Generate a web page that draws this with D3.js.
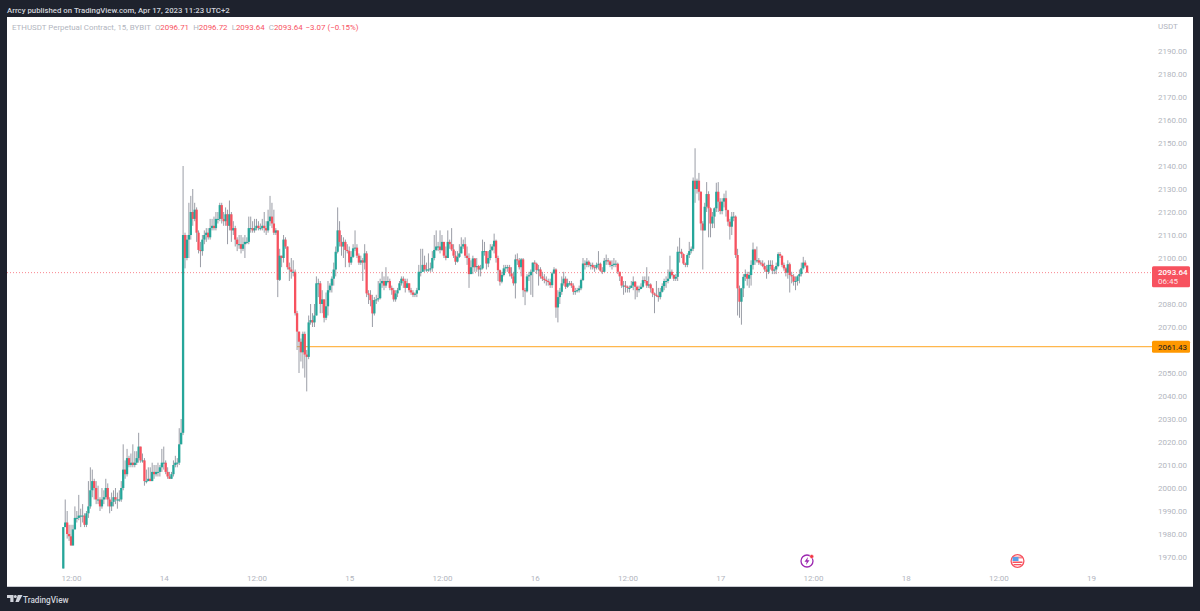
<!DOCTYPE html>
<html><head><meta charset="utf-8">
<script src="https://d3js.org/d3.v7.min.js"></script>
<style>html,body{margin:0;padding:0;background:#1e222d}svg{display:block}</style>
</head><body><div id="c"></div>
<script>
const opens=[
1965,1983,1985,1980,1979,1975,1982,1987,1987,1988,
1988,1988,1984,1989,1992,1999,2003,2000,1995,1995,
1992,1995,1996,2000,1995,1992,1994,1996,1995,1995,
1995,2000,2008,2006,2013,2010,2011,2010,2011,2013,
2018,2012,2012,2003,2003,2004,2003,2007,2006,2007,
2007,2009,2011,2011,2007,2005,2004,2006,2010,2011,
2011,2019,2024,2110,2100,2108,2110,2120,2117,2121,
2111,2103.5,2103,2108,2110,2111,2109,2113,2114,2113,
2117,2117,2123,2117,2116,2119,2114,2119,2112,2113,
2108,2106,2106,2104,2106,2107,2107,2113,2113,2112,
2113,2114,2113,2113,2114,2113,2112,2116,2118,2115,
2111,2112,2090.5,2101,2100,2108,2105,2096,2095,2094,
2094,2076,2068,2063.6,2059,2067,2058,2057,2072,2073,
2072,2075,2089,2089,2080,2082,2074,2079,2086,2088,
2091,2095,2102.7,2112,2107,2105,2107,2103.5,2103,2098,
2100.5,2104.2,2104.5,2101,2098,2099,2098,2102,2084.6,2084,
2081.7,2075.9,2081.7,2082,2082.5,2089,2090,2088,2090,2090,
2087,2086,2082,2084.6,2086,2089,2091,2090,2087,2089,
2086,2085,2084,2084.5,2086,2094,2094,2097,2095,2095,
2095,2095.5,2100,2103.5,2105,2105,2103.5,2107,2101,2100,
2107,2106,2103.7,2101,2098.4,2100.5,2102,2105,2106,2101,
2100,2093,2096,2099.8,2096,2096.5,2095,2095.5,2103,2103,
2097.6,2100,2103.5,2105,2107.5,2100,2094.7,2089.7,2092.6,2095.5,
2096,2096,2093.3,2092,2089,2099.4,2099,2096,2099.4,2086,
2085.5,2092,2092.5,2094,2098,2097.5,2094.8,2095,2092,2091,
2090.4,2090,2089.5,2088.2,2093.3,2095,2078.5,2083,2085.3,2089,
2091,2087.5,2089,2089,2088,2085.3,2085.6,2086,2086.8,2090.4,
2097.6,2097,2098.4,2097,2097,2096,2095.8,2097,2097.5,2094.5,
2094,2098.8,2099,2098.5,2097,2097,2097.5,2097.5,2094,2092,
2088,2088,2087.5,2087,2087,2088,2089.7,2087.5,2086,2086.5,
2087.5,2090.4,2090,2088,2088.5,2086.8,2084.6,2084,2083.5,2083,
2085.3,2087.8,2090,2090,2091,2094,2092.6,2091,2091.8,2102.7,
2102.7,2101.7,2097.6,2097,2101.3,2103,2104,2133.6,2130,2133.6,
2128.8,2115,2112,2122.3,2127.8,2121.6,2115,2118,2121.6,2128.8,
2124.5,2120.4,2124.5,2126,2120.8,2115.8,2113.6,2118,2118,2101.3,
2086.8,2081,2086.8,2091.8,2093,2091,2092.6,2097,2103.7,2099,
2099,2098,2097.6,2096.5,2095,2094,2097,2097,2094.5,2095,
2096.5,2101.7,2101,2097,2095.5,2093.6,2097.3,2092.6,2092,2089.7,
2090,2092,2093,2095.5,2098,2096.71];
const closes=[
1983,1985,1980,1979,1975,1982,1987,1987,1988,1988,
1988,1984,1989,1992,1999,2003,2000,1995,1995,1992,
1995,1996,2000,1995,1992,1994,1996,1995,1995,1995,
2000,2008,2006,2013,2010,2011,2010,2011,2013,2018,
2012,2012,2003,2003,2004,2003,2007,2006,2007,2007,
2009,2011,2011,2007,2005,2004,2006,2010,2011,2011,
2019,2024,2110,2100,2108,2110,2120,2117,2121,2111,
2103.5,2103,2108,2110,2111,2109,2113,2114,2113,2117,
2117,2123,2117,2116,2119,2114,2119,2112,2113,2108,
2106,2106,2104,2106,2107,2107,2113,2113,2112,2113,
2114,2113,2113,2114,2113,2112,2116,2118,2115,2111,
2112,2090.5,2101,2100,2108,2105,2096,2095,2094,2094,
2076,2068,2063.6,2059,2067,2058,2057,2072,2073,2072,
2075,2089,2089,2080,2082,2074,2079,2086,2088,2091,
2095,2102.7,2112,2107,2105,2107,2103.5,2103,2098,2100.5,
2104.2,2104.5,2101,2098,2099,2098,2102,2084.6,2084,2081.7,
2075.9,2081.7,2082,2082.5,2089,2090,2088,2090,2090,2087,
2086,2082,2084.6,2086,2089,2091,2090,2087,2089,2086,
2085,2084,2084.5,2086,2094,2094,2097,2095,2095,2095,
2095.5,2100,2103.5,2105,2105,2103.5,2107,2101,2100,2107,
2106,2103.7,2101,2098.4,2100.5,2102,2105,2106,2101,2100,
2093,2096,2099.8,2096,2096.5,2095,2095.5,2103,2103,2097.6,
2100,2103.5,2105,2107.5,2100,2094.7,2089.7,2092.6,2095.5,2096,
2096,2093.3,2092,2089,2099.4,2099,2096,2099.4,2086,2085.5,
2092,2092.5,2094,2098,2097.5,2094.8,2095,2092,2091,2090.4,
2090,2089.5,2088.2,2093.3,2095,2078.5,2083,2085.3,2089,2091,
2087.5,2089,2089,2088,2085.3,2085.6,2086,2086.8,2090.4,2097.6,
2097,2098.4,2097,2097,2096,2095.8,2097,2097.5,2094.5,2094,
2098.8,2099,2098.5,2097,2097,2097.5,2097.5,2094,2092,2088,
2088,2087.5,2087,2087,2088,2089.7,2087.5,2086,2086.5,2087.5,
2090.4,2090,2088,2088.5,2086.8,2084.6,2084,2083.5,2083,2085.3,
2087.8,2090,2090,2091,2094,2092.6,2091,2091.8,2102.7,2102.7,
2101.7,2097.6,2097,2101.3,2103,2104,2133.6,2130,2133.6,2128.8,
2115,2112,2122.3,2127.8,2121.6,2115,2118,2121.6,2128.8,2124.5,
2120.4,2124.5,2126,2120.8,2115.8,2113.6,2118,2118,2101.3,2086.8,
2081,2086.8,2091.8,2093,2091,2092.6,2097,2103.7,2099,2099,
2098,2097.6,2096.5,2095,2094,2097,2097,2094.5,2095,2096.5,
2101.7,2101,2097,2095.5,2093.6,2097.3,2092.6,2092,2089.7,2090,
2092,2093,2095.5,2098,2096.71,2093.64];
const highs=[
1983,1995,1990,1984,1984,1984,1992,1990,1997,1991,
1993,1989,1990,2003,2009,2008,2004,2003,2001,1996,
2000,1999,2004,2002,1996,1998,1999,2000,1998,1999,
2003,2019,2012,2017,2014,2015,2019,2016,2016,2024,
2018,2015,2013,2008,2009,2009,2011,2010,2010,2011,
2010,2017,2018,2012,2009,2007,2007,2012,2014,2013,
2026,2030,2140,2111,2110,2124,2127,2130,2124,2122,
2112,2107,2110,2112,2113,2113,2117,2117,2118,2120,
2120,2124,2124,2120,2122,2121,2125,2120,2116,2114,
2109,2110,2110,2109,2110,2109,2118,2118,2116,2117,
2117,2116,2115,2117,2120,2116,2121,2127,2124,2121,
2113,2112,2104,2101,2110,2109,2105,2098,2100,2099,
2095,2077,2068,2065,2068,2068,2060,2075,2080,2076,
2080,2092,2091,2090,2086,2082,2085,2090,2089,2092,
2098,2105,2122,2116,2110,2109,2108,2106,2105,2103,
2106,2112,2106,2102,2101,2100,2106,2103,2086,2086,
2084,2083,2084,2090,2091,2094,2092,2096,2092,2091,
2088,2087,2086,2087,2090,2092,2092,2091,2091,2089,
2087,2086,2085,2087,2097,2104,2104,2101,2098,2102,
2098,2103,2110,2112,2107,2112,2110,2107,2105,2112,
2108,2113,2106,2103,2103,2106,2109,2108,2109,2105,
2102,2099,2101,2100,2100,2097,2097,2108,2107,2103,
2103,2106,2106,2110.6,2108,2101,2095,2094,2097,2097,
2097,2097,2096,2094,2101.5,2102,2100,2100,2100,2087,
2093,2094,2095,2098,2099,2098,2097,2096,2094,2093,
2092,2091,2091,2094,2096,2095.5,2086,2087,2092,2094,
2092,2091,2090,2090,2089,2087,2087,2088,2091,2100,
2099,2100,2099,2098,2098,2097,2098,2103,2098,2096,
2100,2101.5,2100,2099,2099,2100,2099,2098,2094,2092,
2090,2090,2088,2088,2090,2092,2090,2088,2088,2089,
2092,2092,2096,2092,2089,2087,2085,2090,2087,2087,
2089,2091,2092,2095,2101,2095,2093,2093,2105,2108.8,
2104,2102,2098,2102,2107,2105,2135,2147.7,2134.5,2137,
2129,2116,2124,2133,2129,2122,2120,2122,2132.7,2133,
2126,2126,2128,2129.3,2121,2117,2120,2120,2118.5,2104,
2088,2087,2093,2095,2094,2094,2099,2106.7,2104,2105,
2100,2099,2099,2098,2097,2099,2099,2099,2096,2098,
2102.5,2102.6,2101,2098,2096,2099,2098,2094,2093,2092,
2092.5,2095,2098,2100.5,2099,2096.72];
const lows=[
1965,1983,1978,1977,1975,1975,1982,1985,1986,1983,
1985,1983,1983,1987,1991,1996,1995,1993,1993,1990,
1991,1993,1995,1992,1989,1990,1992,1993,1991,1994,
1994,1999,2004,2005,2009,2009,2009,2009,2010,2011,
2011,2011,2001,2002,2003,2003,2003,2004,2005,2005,
2005,2007,2008,2006,2004,2004,2004,2005,2009,2009,
2010,2019,2023,2095.5,2099,2100,2108,2114,2116,2107,
2102,2096,2101,2106,2107,2108,2108,2112,2112,2112,
2115,2116,2115,2114,2114,2106,2112,2107,2110,2105,
2103,2104,2102,2103,2100,2106,2106,2111,2111,2111,
2112,2112,2112,2112,2111,2110,2111,2114,2113,2110,
2110,2083,2090,2096,2098,2104,2095,2090,2091,2092,
2075,2060,2050,2055,2052,2048,2042,2056,2071,2070,
2070,2075,2083,2076,2076,2072,2073,2075,2085,2085,
2088,2092,2102,2105,2101,2100,2096,2102,2096,2097,
2100,2103,2100,2097,2097,2090,2095,2083,2080,2079,
2070,2075,2080,2081,2082,2087,2086,2087,2089,2086,
2084,2081,2081,2083,2086,2088,2087,2085,2087,2085,
2084,2083,2083,2083,2086,2092,2094,2094,2094,2094,
2094,2094,2099,2103,2103,2102,2103,2100,2099,2100,
2104,2103,2100,2097,2098,2100,2102,2104,2100,2097,
2087,2093,2093,2094,2094,2092,2092,2095,2101,2095,
2096,2099,2103,2102,2098,2090,2088,2089,2092,2094,
2094,2092,2091,2088,2082.4,2097,2095,2092,2083,2079.5,
2085,2090,2084,2083,2094,2093,2088,2091,2090,2089,
2088,2088,2087,2087,2093,2074,2072,2080,2084,2088,
2086.5,2087,2088,2087,2084,2084,2085,2085,2086,2090,
2095,2096,2096,2095,2095,2094,2095,2095,2094,2093,
2094,2097,2097,2096,2095,2096,2096,2093,2090,2087,
2084,2085,2085,2085,2087,2086,2082,2083,2085,2087,
2087,2089,2087,2087,2085,2083,2076,2083,2081,2082,
2085,2086,2087,2089,2091,2092,2090,2090,2090,2098,
2100,2097,2096,2096,2100,2102,2103,2124,2128,2125,
2112,2095,2112,2120,2109,2109,2113,2113,2120,2120,
2119,2119,2122,2118,2114,2108,2110,2116,2100,2075,
2074,2071,2083,2090,2088,2087,2088,2095,2097,2098,
2097,2096.8,2096,2094,2091,2093,2095,2093,2093,2093,
2096,2100,2096,2094.5,2092,2091,2085,2089,2088,2086,
2088,2089,2092,2095,2096,2093.64];
const priceTicks=[1970,1980,1990,2000,2010,2020,2030,2040,2050,2070,2080,2100,2110,2120,2130,2140,2150,2160,2170,2180,2190];
const timeTickBars=[4,52,100,148,196,244,292,340,388,436,484,532];
const timeTickLabels=["12:00","14","12:00","15","12:00","16","12:00","17","12:00","18","12:00","19"];
const lastClose=2093.64, countdown="06:45", lineStartBar=121, linePrice=2061.43;
const titleText="Arrcy published on TradingView.com, Apr 17, 2023 11:23 UTC+2";
const symbolText="ETHUSDT Perpetual Contract, 15, BYBIT";
const ohlcLabels=[["O","2096.71"],["H","2096.72"],["L","2093.64"],["C","2093.64"]];
const changeText="−3.07 (−0.15%)";

const W=1200,H=611,UP="#26a69a",DOWN="#f7525f",WICK="#8f929c",TXT="#b2b5be";
const FONT="Roboto, 'Open Sans', sans-serif", FS="8px";
const svg=d3.select("#c").append("svg").attr("width",W).attr("height",H).style("font-family",FONT);
svg.append("rect").attr("width",W).attr("height",H).attr("fill","#1e222d");
svg.append("rect").attr("x",7).attr("y",17).attr("width",1186).attr("height",570).attr("fill","#fff");
svg.append("rect").attr("x",7).attr("y",586).attr("width",1186).attr("height",1).attr("fill","#c9cbd1");

const y=d3.scaleLinear().domain([1970,2190]).range([557,51]);
const x=d3.scaleLinear().domain([0,1]).range([63.3,65.232]);
const bars=closes.map((c,i)=>({i,o:opens[i],c,h:highs[i],l:lows[i]}));

// price / time axes
const ya=svg.append("g").attr("transform","translate(1152,0)").call(d3.axisRight(y).tickValues(priceTicks).tickSize(0).tickPadding(6).tickFormat(d3.format(".2f")));
const xa=svg.append("g").attr("transform","translate(0,572)").call(d3.axisBottom(x).tickValues(timeTickBars).tickSize(0).tickPadding(3).tickFormat((d,i)=>timeTickLabels[i]));
[ya,xa].forEach(a=>{a.select(".domain").remove();a.selectAll("text").attr("fill",TXT).style("font-size",FS).style("font-family",FONT);});
svg.append("text").attr("x",1158).attr("y",28.5).attr("fill",TXT).style("font-size",FS).text("USDT");

// last price dotted line
svg.append("line").attr("x1",7).attr("x2",1152).attr("y1",y(lastClose)).attr("y2",y(lastClose)).attr("stroke",DOWN).attr("stroke-opacity",.7).attr("stroke-dasharray","1 2");
// horizontal level
svg.append("line").attr("x1",x(lineStartBar)).attr("x2",1152).attr("y1",y(linePrice)).attr("y2",y(linePrice)).attr("stroke","#ffb74d").attr("stroke-width",1.3);

// candles
const g=svg.append("g");
g.selectAll("line.w").data(bars).join("line").attr("class","w")
 .attr("x1",d=>x(d.i)).attr("x2",d=>x(d.i))
 .attr("y1",d=>y(d.h)).attr("y2",d=>y(d.l)).attr("stroke",WICK).attr("stroke-width",.9);
g.selectAll("rect.b").data(bars).join("rect").attr("class","b")
 .attr("x",d=>x(d.i)-1.15)
 .attr("width",2.3)
 .attr("y",d=>y(Math.max(d.o,d.c)))
 .attr("height",d=>Math.max(1,Math.abs(y(d.o)-y(d.c))))
 .attr("fill",d=>d.c>=d.o?UP:DOWN);

// price labels
const ly=y(lastClose);
svg.append("rect").attr("x",1152).attr("y",ly-6.5).attr("width",38).attr("height",21).attr("rx",1.5).attr("fill",DOWN);
svg.append("text").attr("x",1158).attr("y",ly+2.5).attr("fill","#fff").style("font-size",FS).style("font-weight",500).text(d3.format(".2f")(lastClose));
svg.append("text").attr("x",1158).attr("y",ly+11.5).attr("fill","#fff").attr("fill-opacity",.85).style("font-size",FS).text(countdown);
const oy=y(linePrice);
svg.append("rect").attr("x",1152).attr("y",oy-6).attr("width",38).attr("height",12).attr("rx",1.5).attr("fill","#ff9800");
svg.append("text").attr("x",1158).attr("y",oy+3).attr("fill","#131722").style("font-size",FS).text(d3.format(".2f")(linePrice));

// header texts
svg.append("text").attr("x",7).attr("y",12.5).attr("fill","#d1d4dc").style("font-size","7.8px").style("font-weight",500).text(titleText);
const leg=svg.append("text").attr("x",12).attr("y",30).style("font-size","7.9px");
leg.append("tspan").attr("fill",TXT).text(symbolText+"  ");
ohlcLabels.forEach(([k,v])=>{leg.append("tspan").attr("fill",TXT).attr("dx",2.2).text(k);leg.append("tspan").attr("fill",DOWN).text(v+" ");});
leg.append("tspan").attr("fill",DOWN).attr("dx",1).text(changeText);

// event icons
const ev=svg.append("g").attr("transform","translate(807,561)");
ev.append("circle").attr("r",6).attr("fill","#fff").attr("stroke","#9c27b0").attr("stroke-width",1.3);
ev.append("path").attr("d","M1,-4L-2.5,0.8H-0.3L-1,4L2.5,-0.8H0.3Z").attr("fill","#9c27b0");
ev.append("circle").attr("cx",4.7).attr("cy",-4.5).attr("r",2).attr("fill","#f23645").attr("stroke","#fff").attr("stroke-width",.5);
const fl=svg.append("g").attr("transform","translate(1017.5,561)");
fl.append("circle").attr("r",6.4).attr("fill","#fff").attr("stroke","#f7525f").attr("stroke-width",1.3);
fl.append("rect").attr("x",-5).attr("y",-4.5).attr("width",10).attr("height",2).attr("fill","#f7525f").attr("opacity",.7);
fl.append("rect").attr("x",-5).attr("y",0.5).attr("width",10).attr("height",1.5).attr("fill","#f7525f");
fl.append("rect").attr("x",-4).attr("y",3).attr("width",8).attr("height",1.3).attr("fill","#f7525f");
fl.append("rect").attr("x",-5).attr("y",-4).attr("width",6).attr("height",4).attr("fill","#5a9fe8");

// footer logo
const lg=svg.append("g").attr("transform","translate(7,595)").attr("fill","#d1d4dc");
lg.append("path").attr("d","M0,0H6.5V7H3.3V3H0Z");
lg.append("circle").attr("cx",8.3).attr("cy",1.6).attr("r",1.5);
lg.append("path").attr("d","M10.8,0H15.5L11.8,7H8.4Z");
svg.append("text").attr("x",23).attr("y",602.5).attr("fill","#d1d4dc").style("font-size","8.2px").style("font-weight",500).text("TradingView");
</script></body></html>
